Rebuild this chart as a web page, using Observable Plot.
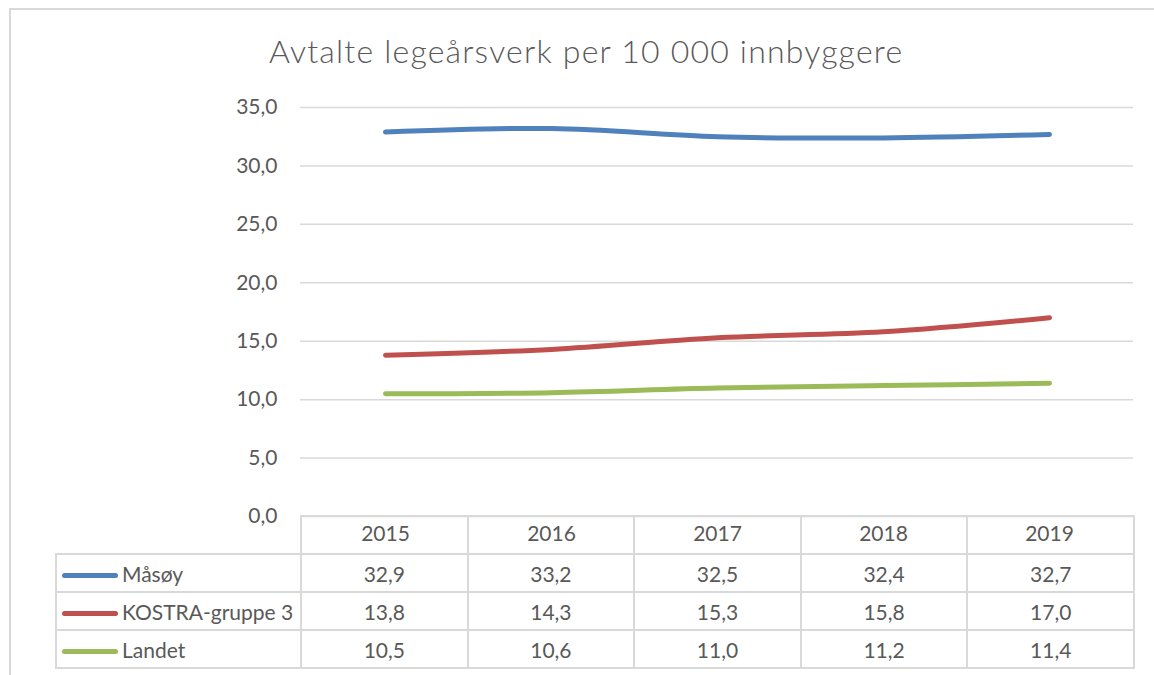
<!DOCTYPE html>
<html><head><meta charset="utf-8">
<script src="https://cdn.jsdelivr.net/npm/d3@7"></script>
<script src="https://cdn.jsdelivr.net/npm/@observablehq/plot@0.6"></script>
<style>
body{margin:0;background:#fff;font-family:Lato,"Open Sans",sans-serif;color:#595959;}
#wrap{position:relative;width:1154px;height:675px;overflow:hidden;background:#fff;}
#frame{position:absolute;left:9px;top:8px;width:1200px;height:700px;border-top:2px solid #d9d9d9;border-left:2px solid #d9d9d9;}
#title{position:absolute;left:269px;top:32px;font-size:32px;line-height:38px;font-weight:300;letter-spacing:1.2px;white-space:nowrap;color:#595959;}
#chart{position:absolute;left:0;top:0;}
#tbl{position:absolute;left:55px;top:515px;border-collapse:collapse;table-layout:fixed;font-size:21px;color:#595959;}
#tbl td{border:2px solid #d9d9d9;padding:0;text-align:center;height:36px;}
#tbl td.corner{border-top:none;border-left:none;}
#tbl td.lab{text-align:left;padding-left:5px;white-space:nowrap;}
.sw{display:inline-block;width:56px;height:5px;border-radius:3px;vertical-align:middle;margin-right:4px;position:relative;top:-1px;}
</style>
</head><body>
<div id="wrap">
  <div id="frame"></div>
  <div id="chart"></div>
  <table id="tbl"></table>
  <div id="title"></div>
</div>
<script>
const titleText = "Avtalte legeårsverk per 10 000 innbyggere";
const years = ["2015", "2016", "2017", "2018", "2019"];
const seriesNames = ["Måsøy", "KOSTRA-gruppe 3", "Landet"];
const masoy = [32.9, 33.2, 32.5, 32.4, 32.7];
const kostra = [13.8, 14.3, 15.3, 15.8, 17.0];
const landet = [10.5, 10.6, 11.0, 11.2, 11.4];
const seriesColors = ["#4F81BD", "#C0504D", "#9BBB59"];
const yTicks = [0, 5, 10, 15, 20, 25, 30, 35];

const seriesValues = [masoy, kostra, landet];
const data = seriesNames.flatMap((s, i) => years.map((yr, j) => ({series: s, year: yr, value: seriesValues[i][j]})));
const fmt = d => d.toFixed(1).replace(".", ",");

document.getElementById("title").textContent = titleText;

const W = 1154, H = 675, mL = 300, mR = 21, mT = 107, mB = 159;
const chart = Plot.plot({
  width: W, height: H,
  marginLeft: mL, marginRight: mR, marginTop: mT, marginBottom: mB,
  style: {fontFamily: "Lato, 'Open Sans', sans-serif", fontSize: "21px", color: "#595959", background: "transparent"},
  x: {type: "point", domain: years, padding: 0.5, label: null},
  y: {domain: [0, 35], label: null},
  color: {domain: seriesNames, range: seriesColors},
  marks: [
    Plot.gridY(yTicks, {stroke: "#d9d9d9", strokeOpacity: 1, strokeWidth: 1.5}),
    Plot.axisY(yTicks, {tickSize: 0, tickPadding: 23, tickFormat: fmt, label: null, fill: "#595959"}),
    Plot.axisX({tickSize: 0, tickPadding: 10, label: null, fill: "#595959"}),
    Plot.line(data, {x: "year", y: "value", z: "series", stroke: "series", strokeWidth: 5, curve: "catmull-rom", strokeLinecap: "round", strokeLinejoin: "round"})
  ]
});
document.getElementById("chart").appendChild(chart);

// data table below the plot, columns aligned to the x scale
const colW = (W - mL - mR) / years.length;
const tbl = document.getElementById("tbl");
tbl.style.width = (W - mR - 55) + "px";
const cg = document.createElement("colgroup");
const c0 = document.createElement("col"); c0.style.width = (mL - 55) + "px"; cg.appendChild(c0);
years.forEach(() => { const c = document.createElement("col"); c.style.width = colW + "px"; cg.appendChild(c); });
tbl.appendChild(cg);
const hr = document.createElement("tr");
const corner = document.createElement("td"); corner.className = "corner"; hr.appendChild(corner);
years.forEach(() => hr.appendChild(document.createElement("td")));
tbl.appendChild(hr);
seriesNames.forEach((s, i) => {
  const tr = document.createElement("tr");
  const lab = document.createElement("td"); lab.className = "lab";
  const sw = document.createElement("span"); sw.className = "sw"; sw.style.background = seriesColors[i];
  lab.appendChild(sw); lab.appendChild(document.createTextNode(s));
  tr.appendChild(lab);
  seriesValues[i].forEach(v => { const td = document.createElement("td"); td.textContent = fmt(v); tr.appendChild(td); });
  tbl.appendChild(tr);
});
</script>
</body></html>
